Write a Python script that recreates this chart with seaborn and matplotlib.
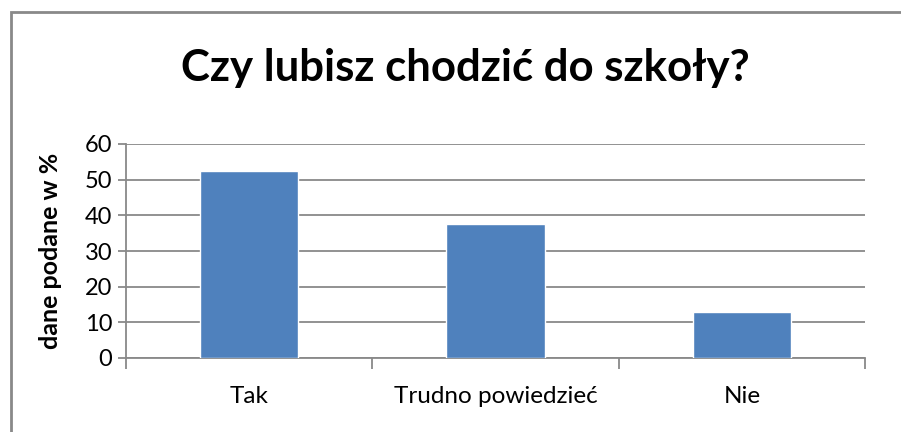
import matplotlib
matplotlib.use("Agg")
import matplotlib.pyplot as plt
import matplotlib.patches as mpatches
import seaborn as sns
import pandas as pd

# data
categories = ["Tak", "Trudno powiedzieć", "Nie"]
values = [52.5, 37.5, 13]
title = "Czy lubisz chodzić do szkoły?"
ylabel = "dane podane w %"

sns.set_style("white")
plt.rcParams['font.family'] = ['Lato', 'DejaVu Sans']
plt.rcParams['text.color'] = 'black'
plt.rcParams['axes.labelcolor'] = 'black'

grey = "#898989"
df = pd.DataFrame({"cat": categories, "val": values})

fig = plt.figure(figsize=(9.01, 4.32), dpi=100)
ax = fig.add_axes([126/901, 1 - 358/432, (865-126)/901, (358-144)/432])

sns.barplot(data=df, x="cat", y="val", color="#4F81BD", width=0.4,
            saturation=1, ax=ax, zorder=3)

ax.set_xlim(-0.5, 2.5)
ax.set_ylim(0, 60)
ax.set_yticks(range(0, 61, 10))
ax.yaxis.grid(True, color=grey, lw=1.3, zorder=0)
ax.set_axisbelow(True)

for s in ["top", "right"]:
    ax.spines[s].set_visible(False)
for s in ["left", "bottom"]:
    ax.spines[s].set_color(grey)
    ax.spines[s].set_linewidth(1.3)

ax.tick_params(axis="y", direction="out", length=6, width=1.3, color=grey,
               labelsize=17, labelcolor="black", pad=4, left=True)
ax.tick_params(axis="x", which="major", length=0, labelsize=17.5,
               labelcolor="black", pad=20)
ax.set_xticks([-0.5, 0.5, 1.5, 2.5], minor=True)
ax.tick_params(axis="x", which="minor", direction="out", length=8, width=1.3,
               color=grey, bottom=True)

ax.set_xlabel("")
ax.set_ylabel(ylabel, fontsize=18, fontweight="bold", color="black")
ax.yaxis.set_label_coords((62 - 126) / (865 - 126), 0.5)

fig.text(465/901, 1 - 68/432, title, ha="center", va="center",
         fontsize=31.5, fontweight="bold", color="black")

# outer chart frame
fig.patches.append(mpatches.Rectangle((11/901, -0.1), 2, 1.1 - 12/432,
                   transform=fig.transFigure, fill=False,
                   edgecolor=grey, lw=2, figure=fig))

fig.savefig("out.png", dpi=100)
